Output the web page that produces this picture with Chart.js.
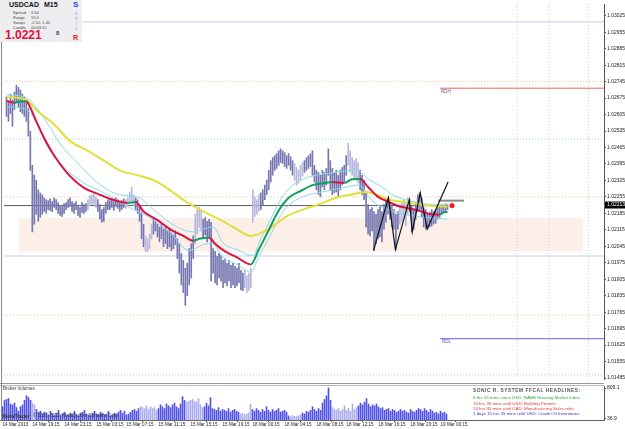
<!DOCTYPE html>
<html><head><meta charset="utf-8">
<script src="https://cdn.jsdelivr.net/npm/chart.js@4/dist/chart.umd.min.js"></script>
<style>
html,body{margin:0;padding:0;background:#fff;width:625px;height:429px;overflow:hidden;font-family:"Liberation Sans",Arial,sans-serif;}
canvas{position:absolute;left:0;}
#main{top:0;}
#vol{top:384px;}
.t{position:absolute;white-space:pre;line-height:1;}
.sep{position:absolute;left:0;width:604px;height:1px;background:#9a9a9a;}
</style></head><body>
<canvas id="main" width="625" height="383"></canvas>
<canvas id="vol" width="625" height="45"></canvas>
<div class="sep" style="top:383px"></div>
<div class="sep" style="top:385px;background:#b8b8b8"></div>
<div style="position:absolute;left:1px;top:42px;width:1px;height:379px;background:#8a8a8a"></div>

<div style="position:absolute;left:0;top:0;width:82px;height:42px;background:#eeeef1"></div>
<div class="t" style="left:9px;top:1px;font-weight:bold;font-size:7px;color:#111">USDCAD</div>
<div class="t" style="left:44px;top:1px;font-weight:bold;font-size:7px;color:#111">M15</div>
<div class="t" style="left:13px;top:11px;font-size:4px;color:#444">Spread</div>
<div class="t" style="left:31px;top:11px;font-size:4px;color:#444">1.50</div>
<div class="t" style="left:13px;top:16px;font-size:4px;color:#444">Range</div>
<div class="t" style="left:31px;top:16px;font-size:4px;color:#444">55.0</div>
<div class="t" style="left:13px;top:21px;font-size:4px;color:#444">Swaps</div>
<div class="t" style="left:31px;top:21px;font-size:4px;color:#444">-2.50, 1.40</div>
<div class="t" style="left:13px;top:25.5px;font-size:4px;color:#444">Candle</div>
<div class="t" style="left:31px;top:25.5px;font-size:4px;color:#444">00:03:15</div>
<div class="t" style="left:5px;top:29px;font-weight:bold;font-size:12px;color:#e0103c">1.0221</div>
<div class="t" style="left:56px;top:30px;font-weight:bold;font-size:6px;color:#444">8</div>
<div class="t" style="left:73px;top:1px;font-weight:bold;font-size:8px;color:#2244ee">S</div>
<div class="t" style="left:75px;top:12px;font-size:4.5px;color:#8c8cf0">o</div>
<div class="t" style="left:75px;top:17px;font-size:4.5px;color:#8c8cf0">n</div>
<div class="t" style="left:76px;top:22px;font-size:4.5px;color:#8c8cf0">i</div>
<div class="t" style="left:75px;top:27px;font-size:4.5px;color:#8c8cf0">c</div>
<div class="t" style="left:73px;top:34px;font-weight:bold;font-size:7px;color:#ee1133">R</div>

<div class="t" style="left:3px;top:387px;font-size:4.5px;color:#333">Broker Volumes</div>
<div class="t" style="left:3px;top:413.5px;font-size:5px;font-weight:bold;color:#333">MetaTrader</div>
<div class="t" style="left:33px;top:414px;font-size:4.6px;color:#333">© 2001-2012, MetaQuotes Software Corp.</div>

<div class="t" style="left:473px;top:388.5px;font-size:4.8px;font-weight:bold;letter-spacing:0.55px;color:#555">SONIC R. SYSTEM FFCAL HEADLINES:</div>
<div class="t" style="left:473px;top:395.5px;font-size:4.4px;color:#2fa82f">6 hrs 55 mins since USD: NAHB Housing Market Index</div>
<div class="t" style="left:473px;top:401.5px;font-size:4.4px;color:#ee3333">13 hrs 35 mins until USD: Building Permits</div>
<div class="t" style="left:473px;top:406.5px;font-size:4.4px;color:#ee3333">13 hrs 35 mins until CAD: Manufacturing Sales m/m</div>
<div class="t" style="left:473px;top:411.5px;font-size:4.4px;color:#3333dd">1 days 15 hrs 35 mins until USD: Crude Oil Inventories</div>

<script>
// ---------------- DATA ----------------
const priceTicks = [1.03025,1.02955,1.02885,1.02815,1.02745,1.02675,1.02605,1.02535,1.02465,1.02395,1.02325,1.02255,1.02185,1.02115,1.02045,1.01975,1.01905,1.01835,1.01765,1.01695,1.01625,1.01555,1.01485];
const volTicks = [36.9, 809.1];
const timeLabels = ["14 Mar 2013","14 Mar 19:15","14 Mar 23:15","15 Mar 03:15","15 Mar 07:15","15 Mar 11:15","15 Mar 15:15","15 Mar 19:15","18 Mar 00:15","18 Mar 04:15","18 Mar 08:15","18 Mar 12:15","18 Mar 16:15","18 Mar 20:15","19 Mar 00:15"];
const timeLabelBars = [0,15,31,47,62,78,94,110,125,141,157,172,188,204,219];

const highs = [
1.02680,1.02659,1.02692,1.02667,1.02701,1.02730,1.02721,1.02709,1.02692,1.02680,
1.02659,1.02630,1.02534,1.02389,1.02347,1.02326,1.02285,1.02272,1.02264,1.02251,
1.02243,1.02239,1.02247,1.02235,1.02251,1.02243,1.02231,1.02218,1.02214,1.02226,
1.02231,1.02243,1.02251,1.02235,1.02226,1.02235,1.02218,1.02210,1.02231,1.02222,
1.02226,1.02243,1.02260,1.02264,1.02268,1.02255,1.02243,1.02222,1.02201,1.02210,
1.02231,1.02243,1.02239,1.02247,1.02235,1.02251,1.02243,1.02231,1.02239,1.02247,
1.02243,1.02251,1.02276,1.02297,1.02264,1.02251,1.02243,1.02222,1.02189,1.02139,
1.02089,1.02077,1.02097,1.02139,1.02160,1.02151,1.02139,1.02127,1.02139,1.02118,
1.02127,1.02110,1.02118,1.02102,1.02093,1.02110,1.02077,1.02056,1.02014,1.01985,
1.01952,1.01973,1.02035,1.02056,1.02089,1.02181,1.02201,1.02210,1.02193,1.02160,
1.02168,1.02151,1.02160,1.02147,1.02035,1.02023,1.02002,1.02014,1.02006,1.01985,
1.01993,1.01973,1.01985,1.01964,1.01973,1.01960,1.01952,1.01973,1.01943,1.01931,
1.01943,1.01919,1.01931,1.01952,1.02285,1.02255,1.02243,1.02264,1.02272,1.02285,
1.02305,1.02326,1.02368,1.02409,1.02422,1.02430,1.02439,1.02451,1.02459,1.02451,
1.02443,1.02430,1.02439,1.02426,1.02409,1.02397,1.02380,1.02368,1.02389,1.02401,
1.02409,1.02422,1.02430,1.02439,1.02451,1.02389,1.02368,1.02359,1.02347,1.02368,
1.02359,1.02376,1.02459,1.02409,1.02376,1.02359,1.02368,1.02347,1.02368,1.02380,
1.02389,1.02430,1.02484,1.02451,1.02422,1.02409,1.02418,1.02401,1.02368,1.02347,
1.02326,1.02272,1.02222,1.02201,1.02210,1.02193,1.02181,1.02201,1.02214,1.02193,
1.02222,1.02243,1.02251,1.02231,1.02214,1.02201,1.02181,1.02193,1.02222,1.02231,
1.02243,1.02231,1.02251,1.02243,1.02214,1.02201,1.02231,1.02264,1.02272,1.02251,
1.02210,1.02201,1.02181,1.02189,1.02201,1.02193,1.02201,1.02210,1.02214,1.02222,
1.02218,1.02226,1.02222];
const lows = [
1.02597,1.02576,1.02609,1.02555,1.02626,1.02659,1.02638,1.02617,1.02609,1.02597,
1.02576,1.02513,1.02368,1.02106,1.02139,1.02181,1.02151,1.02168,1.02181,1.02193,
1.02185,1.02201,1.02197,1.02193,1.02210,1.02201,1.02185,1.02176,1.02172,1.02185,
1.02201,1.02210,1.02214,1.02193,1.02185,1.02201,1.02176,1.02168,1.02189,1.02185,
1.02193,1.02201,1.02218,1.02222,1.02226,1.02210,1.02193,1.02160,1.02147,1.02151,
1.02185,1.02201,1.02201,1.02210,1.02197,1.02214,1.02206,1.02193,1.02201,1.02210,
1.02206,1.02218,1.02231,1.02231,1.02218,1.02201,1.02185,1.02151,1.02077,1.02043,
1.02023,1.02023,1.02035,1.02077,1.02097,1.02110,1.02085,1.02064,1.02077,1.02043,
1.02056,1.02035,1.02043,1.02027,1.02035,1.02052,1.01993,1.01931,1.01881,1.01848,
1.01794,1.01835,1.01881,1.01910,1.01993,1.02056,1.02097,1.02127,1.02110,1.02077,
1.02093,1.02064,1.02085,1.01898,1.01931,1.01889,1.01881,1.01910,1.01898,1.01869,
1.01889,1.01877,1.01898,1.01869,1.01881,1.01869,1.01877,1.01889,1.01860,1.01856,
1.01869,1.01848,1.01856,1.01869,1.02147,1.02172,1.02181,1.02193,1.02201,1.02222,
1.02243,1.02264,1.02285,1.02318,1.02347,1.02368,1.02376,1.02389,1.02401,1.02397,
1.02384,1.02376,1.02389,1.02368,1.02347,1.02326,1.02305,1.02314,1.02326,1.02343,
1.02359,1.02368,1.02376,1.02384,1.02347,1.02318,1.02285,1.02264,1.02255,1.02297,
1.02285,1.02305,1.02347,1.02285,1.02264,1.02272,1.02276,1.02255,1.02285,1.02305,
1.02318,1.02347,1.02389,1.02359,1.02347,1.02335,1.02326,1.02314,1.02285,1.02264,
1.02243,1.02127,1.02097,1.02089,1.02110,1.02027,1.02056,1.02077,1.02085,1.02064,
1.02118,1.02147,1.02181,1.02160,1.02127,1.02118,1.02031,1.02118,1.02139,1.02151,
1.02168,1.02131,1.02181,1.02193,1.02106,1.02118,1.02160,1.02193,1.02201,1.02168,
1.02127,1.02118,1.02118,1.02127,1.02131,1.02139,1.02143,1.02160,1.02168,1.02181,
1.02189,1.02193,1.02201];
const volumes = [
336,497,520,543,405,382,428,313,221,336,
382,497,612,566,497,428,382,267,198,221,
152,198,175,130,221,152,110,175,244,130,
152,198,110,130,175,152,221,130,105,175,
198,244,152,130,110,175,221,152,130,198,
175,130,152,221,110,130,175,152,198,244,
175,221,130,152,198,244,267,221,290,336,
313,290,359,267,336,290,313,244,290,382,
336,290,405,359,313,382,428,336,290,405,
590,497,451,474,497,520,474,451,543,382,
313,336,428,359,566,290,267,244,313,221,
267,244,221,290,198,244,267,221,198,152,
175,130,152,175,405,267,221,290,244,198,
267,221,336,244,198,267,221,244,290,198,
221,244,198,105,84,110,95,84,110,130,
175,152,221,198,244,336,267,221,290,244,
428,520,610,809,497,313,267,244,290,221,
267,359,244,290,221,405,267,313,359,428,
382,451,543,405,336,382,359,405,336,290,
313,244,267,290,221,267,244,198,221,267,
221,244,198,175,267,221,198,244,290,267,
221,290,244,198,267,221,175,198,152,221,
175,198,152];

// moving averages (bar index, price)
const emaX = [0,4,6,10,12,15,20,25,32,39,46,52,59,61,65,69,76,83,89,94,97,102,105,110,116,123,127,132,137,142,148,154,160,164,170,174,178,182,187,192,198,203,209,214,218,220,222];
const emaY = [1.02663,1.02655,1.02659,1.02661,1.02634,1.02576,1.02488,1.02418,1.02343,1.02293,1.02268,1.02247,1.02231,1.02229,1.02233,1.02193,1.02156,1.02114,1.02089,1.02068,1.02077,1.02081,1.02056,1.02023,1.01998,1.01968,1.02031,1.02114,1.02197,1.02251,1.02280,1.02305,1.02314,1.02318,1.02314,1.02330,1.02331,1.02297,1.02255,1.02235,1.02214,1.02206,1.02193,1.02181,1.02180,1.02189,1.02191];
const upX = [0,9,14,21,27,36,46,57,66,74,85,94,99,104,109,116,124,128,133,138,143,152,162,176,183,189,195,205,215,222];
const upY = [1.02688,1.02680,1.02646,1.02563,1.02480,1.02397,1.02314,1.02264,1.02255,1.02201,1.02131,1.02106,1.02118,1.02127,1.02060,1.02031,1.02006,1.02077,1.02160,1.02243,1.02297,1.02339,1.02355,1.02368,1.02326,1.02297,1.02260,1.02235,1.02222,1.02222];
const loX = [0,9,14,21,29,39,49,62,71,82,92,99,104,109,116,123,127,132,140,149,159,169,177,185,192,198,203,211,222];
const loY = [1.02638,1.02630,1.02588,1.02463,1.02380,1.02314,1.02272,1.02210,1.02172,1.02106,1.02027,1.02052,1.02056,1.01997,1.01968,1.01935,1.02002,1.02077,1.02201,1.02255,1.02276,1.02293,1.02305,1.02231,1.02201,1.02185,1.02176,1.02168,1.02160];
const yelX = [0,9,16,24,32,41,49,57,66,74,82,91,99,107,115,123,132,141,149,157,166,173,181,186,193,202,212,222];
const yelY = [1.02680,1.02671,1.02617,1.02563,1.02492,1.02451,1.02409,1.02368,1.02347,1.02326,1.02285,1.02231,1.02193,1.02160,1.02122,1.02089,1.02118,1.02172,1.02201,1.02222,1.02251,1.02264,1.02276,1.02264,1.02243,1.02231,1.02218,1.02214];
const zigX = [184.75,192.25,195.75,202.75,204.25,208.25,211.75,222.25];
const zigY = [1.02027,1.02251,1.02031,1.02243,1.02106,1.02272,1.02118,1.02318];

// levels and objects
const lastPrice = 1.02213;
const bidLine = 1.02218;
const markerBar = 224.25;
const stopLine = 1.02239;
const stopFrom = 217.25, stopTo = 230.25;
const lavenderLevels = [1.02999, 1.02004];
const orangeDotLevels = [1.02746, 1.02255, 1.01752];
const greenDotLevels = [1.02501, 1.01498];
const rdh = 1.02717, rdl = 1.01652, rdStart = 218.25;
const zoneHigh = 1.02164, zoneLow = 1.02023, zoneFrom = 6.25, zoneTo = 290.25;
const timeMarks = [257, 273, 293];
const barLight = [[41,45],[60,64],[70,73],[95,98],[120,127],[145,149],[172,177],[198,202]];
const volLight = [[15,16],[69,77],[92,100],[119,124],[144,149],[165,177]];

// ---------------- CHART ----------------
Chart.defaults.font.family = "'Liberation Sans', Arial, sans-serif";
Chart.defaults.animation = false;
const X0 = -1.25, X1 = 300.75;
const YMAX = 1.030749, YMIN = 1.014808;
const inR = (r, i) => r.some(([a,b]) => i >= a && i <= b);
const pts = (xs, ys) => xs.map((x,i) => ({x, y: ys[i]}));
const hline = (v, a, b) => [{x:a, y:v}, {x:b, y:v}];
const noPt = {pointRadius:0, pointHoverRadius:0};

const datasets = [];
datasets.push({type:'line', data: hline(zoneHigh, zoneFrom, zoneTo), borderWidth:0, borderColor:'rgba(0,0,0,0)', fill:false, order:30, ...noPt});
datasets.push({type:'line', data: hline(zoneLow, zoneFrom, zoneTo), borderWidth:0, borderColor:'rgba(0,0,0,0)', fill:'-1', backgroundColor:'#fcefe7', order:29, ...noPt});
lavenderLevels.forEach(v => datasets.push({type:'line', data: hline(v, X0, X1), borderColor:'#d9dcee', borderWidth:1.5, order:20, ...noPt}));
orangeDotLevels.forEach(v => datasets.push({type:'line', data: hline(v, X0, X1), borderColor:'#f2c49c', borderWidth:1, borderDash:[1,2], order:20, ...noPt}));
greenDotLevels.forEach(v => datasets.push({type:'line', data: hline(v, X0, X1), borderColor:'#9fd8a8', borderWidth:1, borderDash:[1,2], order:20, ...noPt}));
timeMarks.forEach(v => datasets.push({type:'line', data: [{x:v, y:YMAX}, {x:v, y:YMIN}], borderColor:'#dccccc', borderWidth:1, borderDash:[1,2], order:20, ...noPt}));
datasets.push({type:'line', data: hline(rdh, rdStart, X1), borderColor:'#ee6060', borderWidth:1, order:19, ...noPt});
datasets.push({type:'line', data: hline(rdl, rdStart, X1), borderColor:'#6060ee', borderWidth:1, order:19, ...noPt});
datasets.push({type:'line', data: hline(bidLine, X0, 222.25), borderColor:'#5a5a5a', borderWidth:1, order:18, ...noPt});
datasets.push({type:'bar', data: highs.map((h,i) => ({x:i, y:[lows[i], h]})), backgroundColor: c => inR(barLight, c.dataIndex) ? '#b8b8de' : '#7676b2', barThickness:1, borderWidth:0, grouped:false, order:10});
datasets.push({type:'line', data: pts(upX, upY), borderColor:'#88d8f0', borderWidth:1, cubicInterpolationMode:'monotone', order:5, ...noPt});
datasets.push({type:'line', data: pts(loX, loY), borderColor:'#88d8f0', borderWidth:1, cubicInterpolationMode:'monotone', order:5, ...noPt});
datasets.push({type:'line', data: pts(yelX, yelY), borderColor:'#e2e038', borderWidth:2, cubicInterpolationMode:'monotone', order:4, ...noPt});
datasets.push({type:'line', data: pts(emaX, emaY), borderColor:'#dd1144', borderWidth:2, cubicInterpolationMode:'monotone', order:3,
  segment:{borderColor: c => c.p1.parsed.y > c.p0.parsed.y ? '#10a060' : '#dd1144'}, ...noPt});
datasets.push({type:'line', data: pts(zigX, zigY), borderColor:'#111', borderWidth:1.2, tension:0, order:2, ...noPt});
datasets.push({type:'line', data: hline(stopLine, stopFrom, stopTo), borderColor:'#8a8a8a', borderWidth:2, order:2, ...noPt});
datasets.push({type:'scatter', data: [{x:markerBar, y:bidLine}], backgroundColor:'#ee2222', borderWidth:0, pointRadius:2.6, order:1});

const mainOverlay = {
  id:'mainOverlay',
  afterDraw(chart){
    const {ctx, scales:{x, y}} = chart;
    ctx.save();
    const py = Math.round(y.getPixelForValue(lastPrice)) - 2;
    ctx.fillStyle = '#000';
    ctx.fillRect(605, py - 3.5, 20, 7);
    ctx.fillStyle = '#fff';
    ctx.font = "5px 'Liberation Sans', Arial";
    ctx.textBaseline = 'middle'; ctx.textAlign = 'left';
    ctx.fillText(lastPrice.toFixed(5), 607, py);
    ctx.fillStyle = '#5a5aa8';
    ctx.textBaseline = 'top';
    ctx.font = "4.5px 'Liberation Sans', Arial";
    ctx.fillText('RDH', x.getPixelForValue(rdStart) + 1, y.getPixelForValue(rdh) + 1);
    ctx.fillText('RDL', x.getPixelForValue(rdStart) + 2, y.getPixelForValue(rdl) + 1);
    ctx.restore();
  }
};

new Chart(document.getElementById('main'), {
  type:'bar',
  data:{datasets},
  plugins:[mainOverlay],
  options:{
    responsive:false, animation:false, devicePixelRatio:1,
    layout:{padding:0},
    plugins:{legend:{display:false}, tooltip:{enabled:false}},
    scales:{
      x:{type:'linear', min:X0, max:X1, offset:false, display:false},
      y:{type:'linear', position:'right', min:YMIN, max:YMAX, beginAtZero:false,
        afterBuildTicks: s => { s.ticks = priceTicks.map(v => ({value:v})); },
        afterFit: s => { s.width = 21; s.paddingTop = 0; s.paddingBottom = 0; },
        ticks:{autoSkip:false, padding:1, color:'#222', font:{size:5}, callback: v => v.toFixed(5)},
        grid:{drawOnChartArea:false, drawTicks:true, tickLength:2, color:'#555'},
        border:{display:true, color:'#555', width:1}
      }
    }
  }
});

new Chart(document.getElementById('vol'), {
  type:'bar',
  data:{datasets:[{data: volumes.map((v,i) => ({x:i, y:v})), backgroundColor: c => inR(volLight, c.dataIndex) ? '#acacee' : '#5252e2', barThickness:1, borderWidth:0, grouped:false}]},
  options:{
    responsive:false, animation:false, devicePixelRatio:1,
    layout:{padding:{top:2, left:0, right:0, bottom:0}},
    plugins:{legend:{display:false}, tooltip:{enabled:false}},
    scales:{
      x:{type:'linear', min:X0, max:X1, offset:false, position:'bottom',
        afterBuildTicks: s => { s.ticks = timeLabelBars.map(v => ({value:v})); },
        afterFit: s => { s.height = 9; s.paddingLeft = 0; s.paddingRight = 0; },
        ticks:{autoSkip:false, maxRotation:0, minRotation:0, align:'start', padding:0, color:'#222', font:{size:4.6}, callback: (v, i) => timeLabels[i]},
        grid:{drawOnChartArea:false, drawTicks:true, tickLength:2, color:'#555'},
        border:{display:true, color:'#666'}
      },
      y:{type:'linear', position:'right', min:0, max:860, beginAtZero:true,
        afterBuildTicks: s => { s.ticks = volTicks.map(v => ({value:v})); },
        afterFit: s => { s.width = 21; s.paddingTop = 0; s.paddingBottom = 0; },
        ticks:{autoSkip:false, padding:1, color:'#222', font:{size:5}, callback: v => v.toFixed(1)},
        grid:{drawOnChartArea:false, drawTicks:true, tickLength:2, color:'#555'},
        border:{display:true, color:'#555'}
      }
    }
  }
});
</script>
</body></html>
